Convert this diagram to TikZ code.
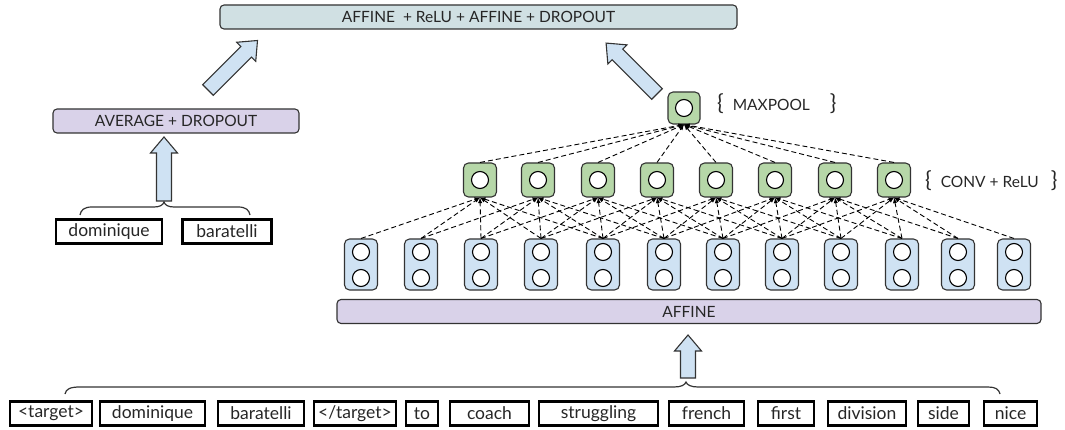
\documentclass[tikz,border=0pt]{standalone}
\usepackage{fontspec}
\setmainfont{Lato}
\usepackage{xcolor}
\usepackage{tikz}
\usetikzlibrary{positioning}
\definecolor{convgreen}{HTML}{B6D7A8}
\definecolor{vecblue}{HTML}{CFE2F3}
\definecolor{layerlav}{HTML}{D9D2E9}
\definecolor{topgray}{HTML}{D0E0E3}
\definecolor{edgegray}{HTML}{333333}
\newcommand{\bigbr}[1]{{\fontsize{22}{22}\selectfont #1}}
\tikzset{
    word/.style = {rectangle, draw=black, line width=2.1pt, minimum height=24pt, inner sep=0pt, font=\fontsize{17.5}{20}\selectfont},
    layer/.style = {rectangle, rounded corners=4pt, draw=edgegray, line width=1.1pt, fill=layerlav, minimum height=24pt, font=\fontsize{15.5}{18}\selectfont},
    vec/.style = {rectangle, rounded corners=5pt, draw=edgegray, line width=1.1pt, fill=vecblue, minimum width=33pt, minimum height=51pt},
    conv/.style = {rectangle, rounded corners=5pt, draw=edgegray, line width=1.1pt, fill=convgreen, minimum width=33pt, minimum height=34pt},
    unit/.style = {circle, draw=black, line width=1.1pt, fill=white, minimum size=17pt, inner sep=0pt},
    link/.style = {-latex, dashed, dash pattern=on 5pt off 3pt, line width=0.9pt},
    brace/.style = {line width=1.2pt, draw=edgegray},
    fatline/.style = {draw=edgegray, line width=1.1pt, fill=vecblue, line join=miter},
    pics/fatarrow/.style = {code={
        \draw[fatline] (0,-7.5) -- (#1-16,-7.5) -- (#1-16,-13.5) -- (#1,0)
            -- (#1-16,13.5) -- (#1-16,7.5) -- (0,7.5) -- cycle;}},
}

\begin{document}
\begin{tikzpicture}[x=1pt, y=-1pt, font=\fontsize{15.5}{18}\selectfont, text=black!85]
\useasboundingbox (0,0) rectangle (1065,430);
% input words
\foreach \i/\txt/\lx/\rx in {1/{<target>}/9/93, 2/dominique/99/206, 3/baratelli/217/305,
    4/{</target>}/313/397, 5/to/405/439, 6/coach/449/530, 7/struggling/538/659,
    8/french/668/745, 9/first/757/815, 10/division/827/907, 11/side/917/970, 12/nice/983/1038}
    \node[word, minimum width={(\rx-\lx-2.1)*1pt}] at ({(\lx+\rx)/2},413.5) (w\i) {\txt};
%
\node[word, minimum width=106pt] at (109,231.5) (m1) {dominique};
\node[word, minimum width=89pt] at (227,231.5) (m2) {baratelli};
%
\node[layer, minimum width=704pt] at (689,311.5) (affine) {AFFINE};
\node[layer, minimum width=246pt] at (176,121) (avg) {AVERAGE + DROPOUT};
\node[layer, fill=topgray, minimum width=517pt] at (478.5,17) (top) {AFFINE\ \ + ReLU + AFFINE + DROPOUT};
% word vectors
\foreach \i/\x in {1/361, 2/421, 3/481, 4/541, 5/603, 6/664, 7/723, 8/782, 9/841, 10/902, 11/958, 12/1014} {
    \node[vec] at (\x,264.5) (b\i) {};
    \node[unit] at (\x,252) (b\i-1) {};
    \node[unit] at (\x,278) (b\i-2) {};
}
% convolution
\foreach \i/\x in {1/480, 2/538, 3/598, 4/657, 5/716, 6/775, 7/835, 8/894} {
    \node[conv] at (\x,180) (c\i) {};
    \node[unit] at (c\i) (c\i-o) {};
}
\node[conv, minimum height=32pt, minimum width=32pt] at (684,108) (mp) {};
\node[unit] at (mp) (mp-o) {};
%
\foreach \j in {1,...,8}
    \foreach \k in {0,...,4} {
        \pgfmathtruncatemacro{\m}{\j+\k}
        \draw[link] (b\m.north) -- (c\j.south);
    }
\foreach \j in {1,...,8}
    \draw[link] (c\j.north) -- (mp.south);
% labels
\node[anchor=west, inner sep=0pt] at (717,104) (lblmp) {\bigbr{\{}\hspace{9pt}MAXPOOL\hspace{20pt}\bigbr{\}}};
\node[anchor=west, inner sep=0pt] at (925,181) (lblconv) {\bigbr{\{}\hspace{9pt}CONV + ReLU\hspace{12pt}\bigbr{\}}};
% braces
\draw[brace] (65,394) .. controls (66,389) and (70,387) .. (80,387) -- (674,387)
    .. controls (681,387) and (685,385) .. (686,382)
    .. controls (687,385) and (691,387) .. (698,387) -- (988,387)
    .. controls (995,387) and (999,389) .. (1000,394);
\draw[brace] (80,215) .. controls (81,210) and (84,207) .. (92,207) -- (154,207)
    .. controls (160,207) and (163,205) .. (164,202)
    .. controls (165,205) and (168,207) .. (174,207) -- (238,207)
    .. controls (246,207) and (249,210) .. (250,215);
% fat arrows
\coordinate (tailw) at (688,378);
\coordinate (tailm) at (164,201);
\coordinate (tailavg) at (208,90);
\coordinate (tailmp) at (657,94);
\pic[rotate=90] at (tailw) {fatarrow=43};
\pic[rotate=90] at (tailm) {fatarrow=64};
\pic[rotate=45] at (tailavg) {fatarrow=70};
\pic[rotate=135] at (tailmp) {fatarrow=72};
\end{tikzpicture}
\end{document}
